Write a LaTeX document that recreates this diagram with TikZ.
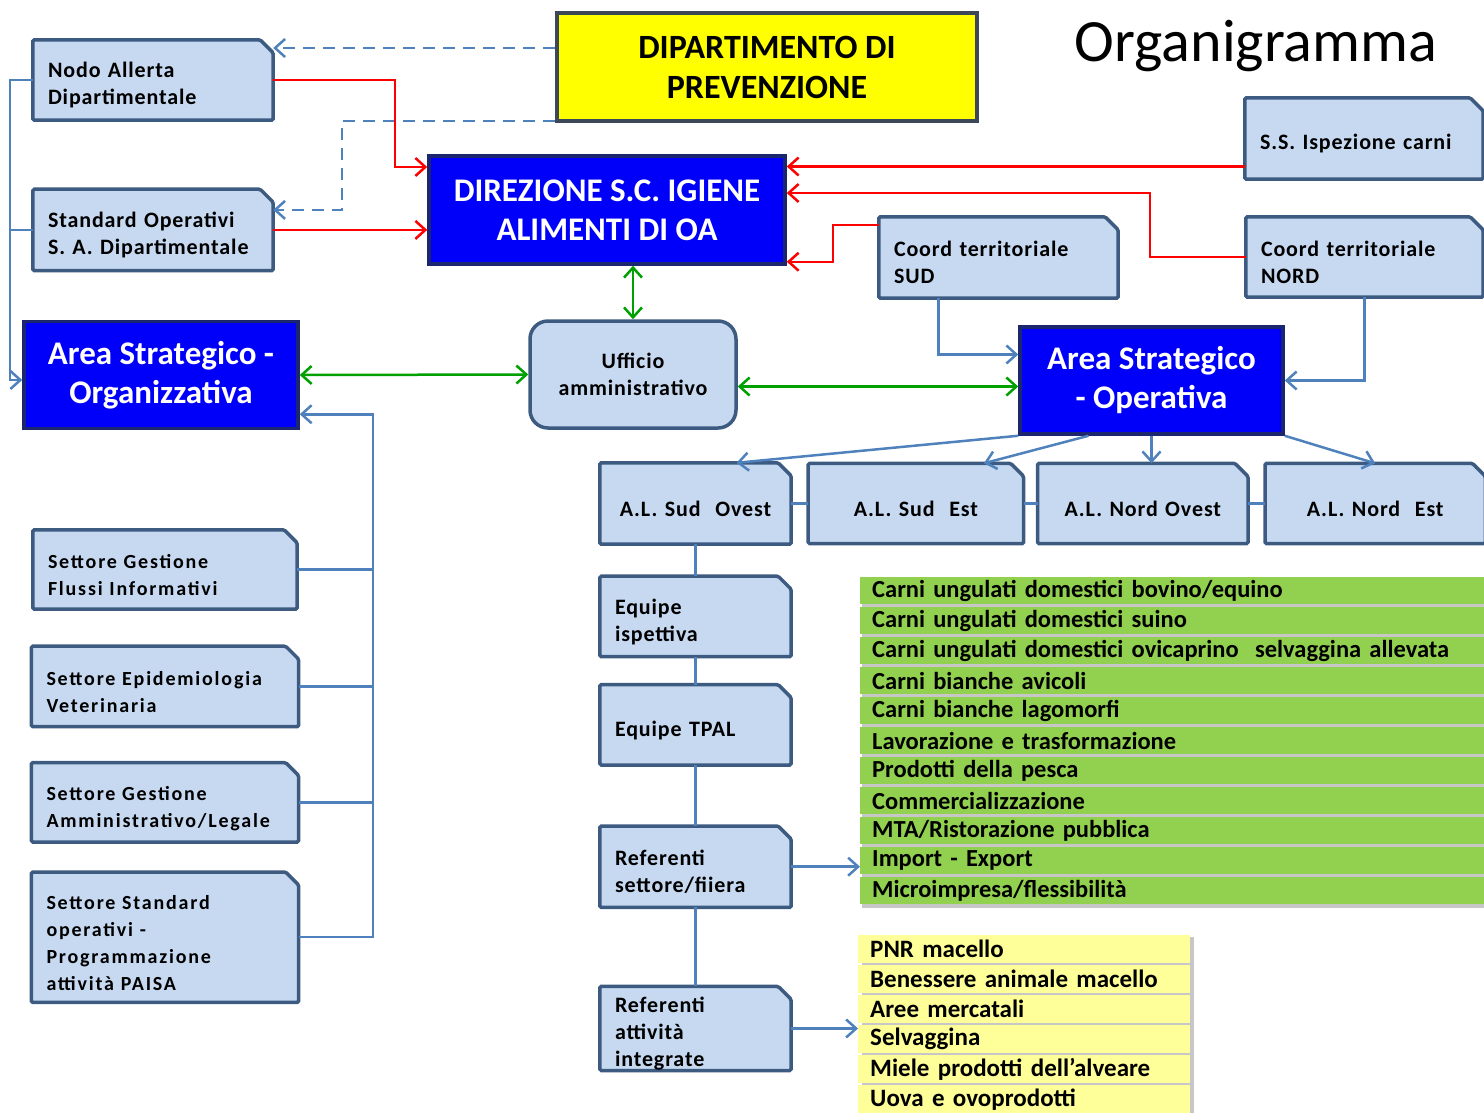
\documentclass[tikz,border=0pt]{standalone}
\usepackage{fontspec}
\setmainfont{Carlito}
\newfontfamily\spaced[LetterSpace=4.0]{Carlito}
\newfontfamily\widespaced[LetterSpace=9.0]{Carlito}
\usetikzlibrary{positioning,arrows.meta,backgrounds}
\definecolor{boxfill}{RGB}{198,217,241}
\definecolor{boxedge}{RGB}{61,90,128}
\definecolor{linkblue}{RGB}{79,129,189}
\definecolor{linkred}{RGB}{255,0,0}
\definecolor{linkgreen}{RGB}{0,160,0}
\definecolor{headblue}{RGB}{0,0,250}
\definecolor{headedge}{RGB}{28,38,110}
\definecolor{deptyellow}{RGB}{255,255,0}
\definecolor{deptedge}{RGB}{60,72,88}
\definecolor{rowgreen}{RGB}{146,208,80}
\definecolor{rowyellow}{RGB}{255,255,153}

% box with the top right corner cut off, drawn behind its node
\newcommand{\snipframe}[1]{%
  \begin{pgfonlayer}{background}
    \draw[snipline] (#1.south west) -- (#1.north west) -- ([xshift=-13pt]#1.north east)
      -- ([yshift=-13pt]#1.north east) -- (#1.south east) -- cycle;
  \end{pgfonlayer}}

\begin{document}
\begin{tikzpicture}[x=1pt, y=-1pt,
    >={Straight Barb[length=10pt,width=18pt]},
    snipline/.style={draw=boxedge, fill=boxfill, line width=3.5pt, rounded corners=1.5pt},
    snipbox/.style={rectangle, minimum height=80pt, inner xsep=15pt, inner ysep=0pt,
      text width=#1, align=left, execute at begin node={\rule{0pt}{26pt}},
      font=\spaced\bfseries\fontsize{22}{27}\selectfont},
    alsbox/.style={snipbox=#1, align=center},
    settorebox/.style={snipbox=#1, execute at begin node={\rule{0pt}{22pt}},
      font=\widespaced\bfseries\fontsize{20}{27}\selectfont},
    headbox/.style={rectangle, fill=headblue, draw=headedge, line width=3.5pt, minimum height=108pt,
      align=center, text=white, font=\bfseries\fontsize{33}{39}\selectfont},
    areabox/.style={headbox, minimum height=107pt},
    deptbox/.style={rectangle, fill=deptyellow, draw=deptedge, line width=4pt, minimum width=420pt,
      minimum height=108pt, align=center, text=black, font=\bfseries\fontsize{34}{40}\selectfont},
    officebox/.style={rectangle, rounded corners=18pt, fill=boxfill, draw=boxedge, line width=3.5pt,
      minimum width=206pt, minimum height=107pt, align=center, font=\spaced\bfseries\fontsize{22}{27}\selectfont},
    greenrow/.style={fill=rowgreen, minimum height=27pt, text width=600pt, inner xsep=12pt, inner ysep=0pt,
      align=left, font=\bfseries\fontsize{24.5}{27}\selectfont},
    yellowrow/.style={greenrow, fill=rowyellow, minimum height=28pt, text width=308pt,
      font=\bfseries\fontsize{25}{27}\selectfont},
    bluelink/.style={draw=linkblue, line width=2.5pt},
    dashlink/.style={bluelink, dash pattern=on 12pt off 8pt},
    redlink/.style={draw=linkred, line width=2.5pt},
    greenlink/.style={draw=linkgreen, line width=2.5pt},
    ]
    \useasboundingbox (0,0) rectangle (1484,1112);

    %Nodes
    \node[font=\fontsize{60}{62}\selectfont] (title) at (1256,46) {Organigramma};
    \node[deptbox]                 (dip)        at (767,67)    {DIPARTIMENTO DI\\PREVENZIONE};
    \node[snipbox=210pt]           (nodo)       at (153,80)    {Nodo Allerta\\Dipartimentale};
    \node[snipbox=210pt, minimum height=81pt] (stdop) [below=69pt of nodo] {Standard Operativi\\S. A. Dipartimentale};
    \node[headbox, minimum width=356pt] (direzione) at (607,210) {DIREZIONE S.C. IGIENE\\ALIMENTI DI OA};
    \node[officebox]               (ufficio)    at (633,374.5) {Ufficio\\amministrativo};
    \node[areabox, minimum width=274pt] (areaorg)  at (161,375)    {Area Strategico -\\Organizzativa};
    \node[areabox, minimum width=263pt] (areaoper) at (1151.5,380.5) {Area Strategico\\- Operativa};
    \node[snipbox=208pt, minimum height=81pt] (ssisp)     at (1364,138.5)  {S.S. Ispezione carni};
    \node[snipbox=209pt, minimum height=81pt] (coordsud)  at (998.5,257.5) {Coord territoriale\\SUD};
    \node[snipbox=207pt]           (coordnord)  at (1364.5,257) {Coord territoriale\\NORD};

    \node[alsbox=161pt, minimum height=81pt] (alsudovest) at (695.5,503.5) {A.L. Sud\ \ Ovest};
    \node[alsbox=185pt]            (alsudest)    [right=17pt of alsudovest] {A.L. Sud\ \ Est};
    \node[alsbox=180pt]            (alnordovest) [right=14pt of alsudest]   {A.L. Nord Ovest};
    \node[alsbox=190pt]            (alnordest)   [right=17pt of alnordovest] {A.L. Nord\ \ Est};

    \node[snipbox=161pt]           (equipeisp)   [below=32pt of alsudovest] {Equipe\\ispettiva};
    \node[snipbox=161pt]           (equipetpal)  [below=28pt of equipeisp]  {Equipe TPAL};
    \node[snipbox=161pt, minimum height=81pt] (refsettore)  [below=61pt of equipetpal] {Referenti\\settore/fiiera};
    \node[snipbox=161pt, minimum height=81pt, execute at begin node={\rule{0pt}{19pt}}]
                                   (refattivita) [below=79pt of refsettore] {Referenti\\attività\\integrate};

    \node[settorebox=234pt, minimum height=79pt] (flussi) at (165,569.5) {Settore Gestione\\Flussi Informativi};
    \node[settorebox=237pt]        (epidem) [below=37pt of flussi] {Settore Epidemiologia\\Veterinaria};
    \node[settorebox=237pt, minimum height=79pt] (ammin) [below=36pt of epidem] {Settore Gestione\\Amministrativo/Legale};
    \node[settorebox=237pt, minimum height=130pt] (paisa) [below=30pt of ammin] {Settore Standard\\operativi -\\Programmazione\\attività PAISA};

    \foreach \b in {nodo,stdop,ssisp,coordsud,coordnord,alsudovest,alsudest,alnordovest,alnordest,
        equipeisp,equipetpal,refsettore,refattivita,flussi,epidem,ammin,paisa}
      \snipframe{\b};

    %Lists
    \foreach \t [count=\i] in {Carni ungulati domestici bovino/equino, Carni ungulati domestici suino,
        Carni ungulati domestici ovicaprino\ \ selvaggina allevata, Carni bianche avicoli,
        Carni bianche lagomorfi, Lavorazione e trasformazione, Prodotti della pesca,
        Commercializzazione, MTA/Ristorazione pubblica, Import - Export, Microimpresa/flessibilità}
      \node[greenrow, anchor=north west] (g\i) at (860,{577+30*(\i-1)}) {\t};
    \foreach \t [count=\i] in {PNR macello, Benessere animale macello, Aree mercatali, Selvaggina,
        Miele prodotti\ dell’alveare, Uova e ovoprodotti}
      \node[yellowrow, anchor=north west] (y\i) at (858,{935+30*(\i-1)}) {\t};
    \begin{pgfonlayer}{background}
      \fill[black!22] ([shift={(2pt,-4pt)}]g1.north west) rectangle ([shift={(2pt,-4pt)}]g11.south east);
      \fill[black!22] ([shift={(4pt,-2pt)}]y1.north west) rectangle ([shift={(4pt,-2pt)}]y6.south east);
    \end{pgfonlayer}

    %Lines
    \coordinate (leftbus) at (10,80);
    \coordinate (rightbus) at (373,413);
    \draw[dashlink,->] ([yshift=19pt]dip.west) -- ([yshift=19pt]dip.west -| nodo.east);
    \draw[dashlink,->] ([yshift=2pt]dip.south west) -- ++(-213,0) |- ([yshift=20pt]stdop.east);
    \draw[redlink,->] (nodo.east) -- ++(122,0) |- ([yshift=43pt]direzione.west);
    \draw[redlink,->] (stdop.east) -- (stdop.east -| direzione.west);
    \draw[redlink,->] ([yshift=-28pt]ssisp.west) -- ([yshift=-28pt]ssisp.west -| direzione.east);
    \draw[redlink,->] (coordnord.west) -- ++(-96,0) |- ([yshift=17pt]direzione.east);
    \draw[redlink,->] ([yshift=-8pt]coordsud.north west) -- ++(-46,0) |- ([yshift=4pt]direzione.south east);
    \draw[greenlink,<->] (direzione.south -| ufficio.north) -- (ufficio.north);
    \draw[greenlink,<->] (areaorg.east) -- (ufficio.west);
    \draw[greenlink,<->] ([yshift=-12pt]ufficio.east) -- ([yshift=-12pt]ufficio.east -| areaoper.west);
    \draw[bluelink,->] (nodo.west) -- (nodo.west -| leftbus) |- ([yshift=-5pt]areaorg.west);
    \draw[bluelink] (stdop.west) -- (stdop.west -| leftbus);
    \draw[bluelink,->] (paisa.east) -- (paisa.east -| rightbus) |- ([yshift=16pt]areaorg.south east);
    \foreach \s in {flussi,epidem,ammin}
      \draw[bluelink] (\s.east) -- (\s.east -| rightbus);
    \draw[bluelink,->] ([xshift=-60pt]coordsud.south) |- ([yshift=26pt]areaoper.west);
    \draw[bluelink,->] (coordnord.south) |- (areaoper.east);
    \draw[bluelink,->] (areaoper.south west) -- ([xshift=41pt]alsudovest.north);
    \draw[bluelink,->] ([xshift=-63pt]areaoper.south) -- ([xshift=68pt]alsudest.north);
    \draw[bluelink,->] (areaoper.south) -- (areaoper.south |- alnordovest.north);
    \draw[bluelink,->] (areaoper.south east) -- (alnordest.north);
    \draw[bluelink] (alsudovest.east) -- (alsudest.west);
    \draw[bluelink] (alsudest.east) -- (alnordovest.west);
    \draw[bluelink] (alnordovest.east) -- (alnordest.west);
    \draw[bluelink] (alsudovest.south) -- (equipeisp.north);
    \draw[bluelink] (equipeisp.south) -- (equipetpal.north);
    \draw[bluelink] (equipetpal.south) -- (refsettore.north);
    \draw[bluelink] (refsettore.south) -- (refattivita.north);
    \draw[bluelink,->] (refsettore.east) -- (refsettore.east -| g1.west);
    \draw[bluelink,->] (refattivita.east) -- (refattivita.east -| y1.west);
\end{tikzpicture}
\end{document}
